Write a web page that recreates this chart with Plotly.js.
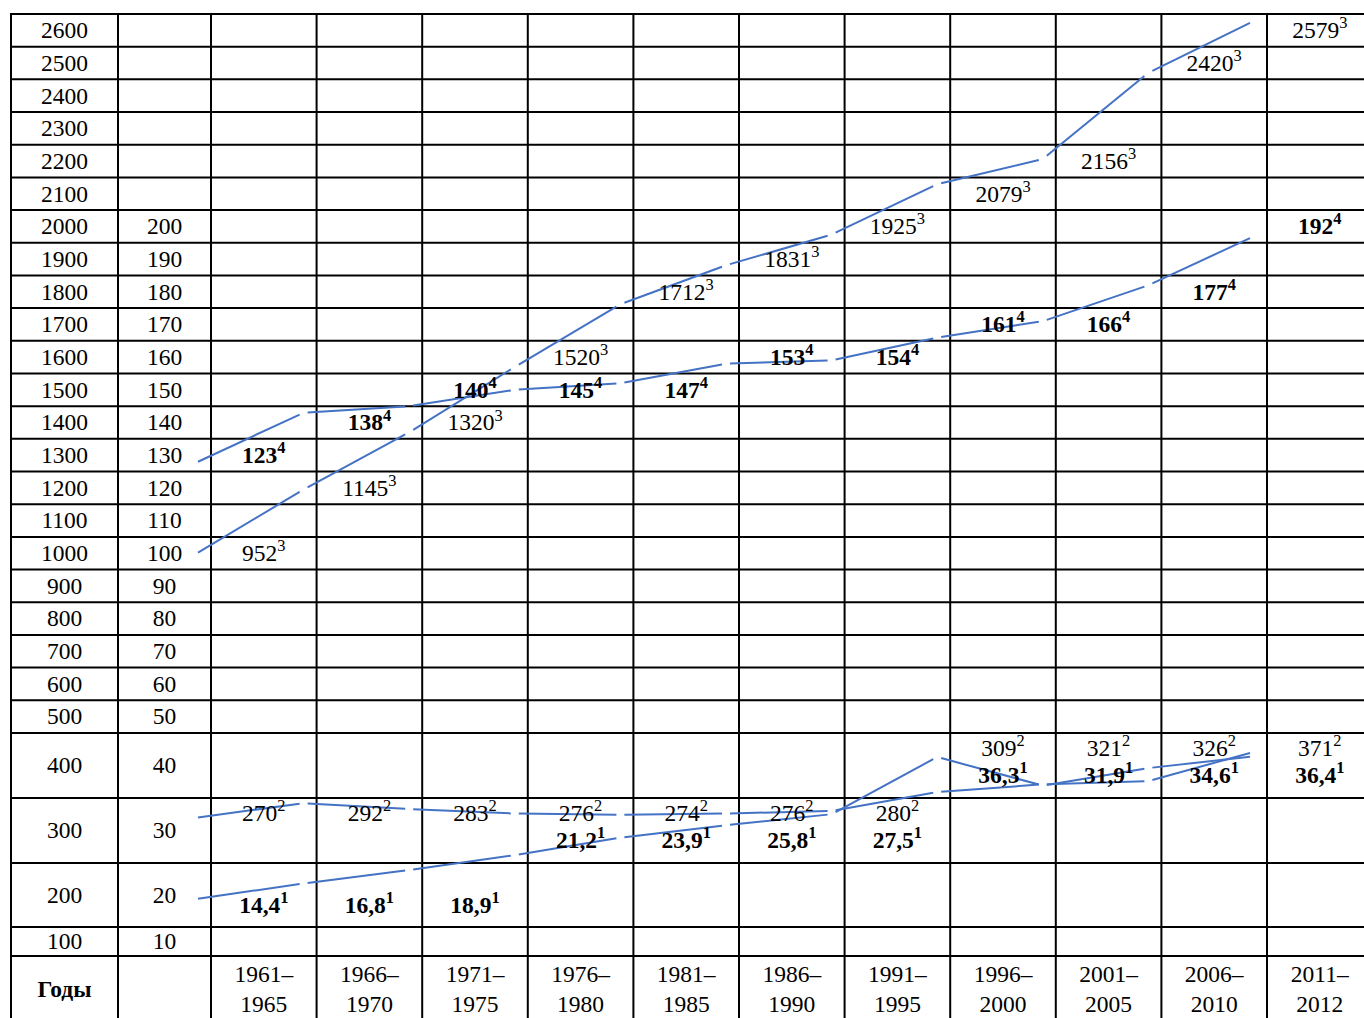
<!DOCTYPE html>
<html><head><meta charset="utf-8">
<script src="https://cdn.plot.ly/plotly-3.0.1.min.js"></script>
<style>html,body{margin:0;padding:0;background:#fff}</style>
</head><body>
<div id="chart" style="width:1364px;height:1018px"></div>
<script>
// ---------- data ----------
const periods = ['1961–1965','1966–1970','1971–1975','1976–1980','1981–1985','1986–1990',
                 '1991–1995','1996–2000','2001–2005','2006–2010','2011–2012'];
const leftTicks = [2600,2500,2400,2300,2200,2100,2000,1900,1800,1700,1600,1500,1400,1300,
                   1200,1100,1000,900,800,700,600,500,400,300,200,100];
const rightTicks = [200,190,180,170,160,150,140,130,120,110,100,90,80,70,60,50,40,30,20,10];
const headerLabel = 'Годы';
// footnote 1 (right scale, bold)
const series1 = [14.4,16.8,18.9,21.2,23.9,25.8,27.5,36.3,31.9,34.6,36.4];
// footnote 2 (left scale)
const series2 = [270,292,283,276,274,276,280,309,321,326,371];
// footnote 3 (left scale)
const series3 = [952,1145,1320,1520,1712,1831,1925,2079,2156,2420,2579];
// footnote 4 (right scale, bold)
const series4 = [123,138,140,145,147,153,154,161,166,177,192];

// ---------- table geometry ----------
const TABLE_LEFT = 11, TABLE_TOP = 14;
const COL_A_W = 107, COL_B_W = 93, PERIOD_W = 105.6;
const HEADER_H = 80;
const TEXT_DY = 2;
function rowHeight(L){ if (L >= 500) return 32.68; if (L === 400 || L === 300) return 65; if (L === 200) return 64; return 29; }
const rows = []; let yy = TABLE_TOP;
leftTicks.forEach(L => { const h = rowHeight(L); rows.push({L, top: yy, bottom: yy + h, h}); yy += h; });
const headerTop = yy;
const colAcenter = TABLE_LEFT + COL_A_W / 2;
const colBleft = TABLE_LEFT + COL_A_W;
const colBcenter = colBleft + COL_B_W / 2;
const periodStart = colBleft + COL_B_W;
const periodLeft = j => periodStart + j * PERIOD_W;
const periodCenter = j => periodLeft(j) + PERIOD_W / 2;

// value on the left scale -> vertical position (row L covers (L-100, L])
function valueToY(v){
  const L = Math.min(2600, (Math.floor(v / 100 + 1e-9) + 1) * 100);
  const r = rows.find(r => r.L === L);
  return r.bottom - (v - (L - 100)) / 100 * r.h;
}
function labelY(v, lineNo){
  const L = (Math.floor(v / 100 + 1e-9) + 1) * 100;
  const r = rows.find(r => r.L === L);
  if (r.h > 40) return r.top + (lineNo === 1 ? 15 : 42) + TEXT_DY;
  return r.top + r.h / 2 + TEXT_DY;
}

// ---------- traces ----------
const FONT = 'Liberation Serif, Times New Roman, serif';
const FSIZE = 23.5;
const BLUE = 'rgb(68,114,196)';
const traces = [];

function lineTrace(vals, scale){
  const px = vals.map((v, j) => periodLeft(j) - 13);
  const py = vals.map(v => valueToY(v * scale));
  const xs = [], ys = [];
  const trim = 4;
  for (let j = 0; j < vals.length - 1; j++){
    const dx = px[j+1] - px[j], dy = py[j+1] - py[j];
    const t0 = j === 0 ? 0 : trim / dx, t1 = 1 - trim / dx;
    xs.push(px[j] + dx * t0, px[j] + dx * t1, null);
    ys.push(py[j] + dy * t0, py[j] + dy * t1, null);
  }
  return {x: xs, y: ys, mode: 'lines', type: 'scatter', connectgaps: false,
          line: {color: BLUE, width: 2}, hoverinfo: 'skip'};
}
traces.push(lineTrace(series3, 1), lineTrace(series4, 10), lineTrace(series2, 1), lineTrace(series1, 10));

function labelTrace(vals, scale, note, bold, lineNo, fmt){
  return {
    x: vals.map((v, j) => periodCenter(j)),
    y: vals.map(v => labelY(v * scale, lineNo)),
    text: vals.map(v => {
      const s = fmt(v) + '<sup>' + note + '</sup>';
      return bold ? '<b>' + s + '</b>' : s;
    }),
    mode: 'text', type: 'scatter', textposition: 'middle center', cliponaxis: false,
    textfont: {family: FONT, size: FSIZE, color: '#000'}, hoverinfo: 'skip'
  };
}
const intFmt = v => String(v);
const decFmt = v => v.toFixed(1).replace('.', ',');
traces.push(labelTrace(series3, 1, 3, false, 1, intFmt));
traces.push(labelTrace(series4, 10, 4, true, 1, intFmt));
traces.push(labelTrace(series2, 1, 2, false, 1, intFmt));
traces.push(labelTrace(series1, 10, 1, true, 2, decFmt));

// left scale column
traces.push({x: rows.map(() => colAcenter), y: rows.map(r => r.top + r.h / 2 + TEXT_DY), text: leftTicks.map(String),
  mode: 'text', type: 'scatter', textposition: 'middle center', cliponaxis: false,
  textfont: {family: FONT, size: FSIZE, color: '#000'}, hoverinfo: 'skip'});
// right scale column
traces.push({x: rightTicks.map(() => colBcenter),
  y: rightTicks.map(t => { const r = rows.find(r => r.L === t * 10); return r.top + r.h / 2 + TEXT_DY; }),
  text: rightTicks.map(String),
  mode: 'text', type: 'scatter', textposition: 'middle center', cliponaxis: false,
  textfont: {family: FONT, size: FSIZE, color: '#000'}, hoverinfo: 'skip'});
// header row
const headerY = headerTop + 33 + TEXT_DY;
traces.push({x: [colAcenter].concat(periods.map((p, j) => periodCenter(j))),
  y: [headerY].concat(periods.map(() => headerY)),
  text: ['<b>' + headerLabel + '</b>'].concat(periods.map(p => p.replace('–', '–<br>'))),
  mode: 'text', type: 'scatter', textposition: 'middle center', cliponaxis: false,
  textfont: {family: FONT, size: FSIZE, color: '#000'}, hoverinfo: 'skip'});

// grid lines of the table (shapes in data coordinates)
const xGrid = [TABLE_LEFT, colBleft];
for (let j = 0; j <= 10; j++) xGrid.push(periodLeft(j));
const yGrid = rows.map(r => r.top).concat([headerTop]);
const tableBottom = headerTop + HEADER_H, tableRight = periodLeft(11);
const shapes = [];
xGrid.forEach(x => shapes.push({type: 'line', xref: 'x', yref: 'y', x0: x, x1: x, y0: TABLE_TOP - 1, y1: tableBottom,
  line: {color: '#000', width: 2}, layer: 'below'}));
yGrid.forEach(y => shapes.push({type: 'line', xref: 'x', yref: 'y', x0: TABLE_LEFT - 1, x1: tableRight, y0: y, y1: y,
  line: {color: '#000', width: 2}, layer: 'below'}));

const layout = {
  width: 1364, height: 1018,
  margin: {l: 8, r: 0, t: 10, b: 0, pad: 0},
  paper_bgcolor: '#fff', plot_bgcolor: '#fff', showlegend: false, hovermode: false,
  shapes: shapes,
  xaxis: {range: [8, 1364], showticklabels: false, ticks: '', showgrid: false,
          zeroline: false, showline: false, fixedrange: true},
  yaxis: {range: [1018, 10], showticklabels: false, ticks: '', showgrid: false,
          zeroline: false, showline: false, fixedrange: true}
};
Plotly.newPlot('chart', traces, layout, {staticPlot: true, displayModeBar: false});
</script>
</body></html>
